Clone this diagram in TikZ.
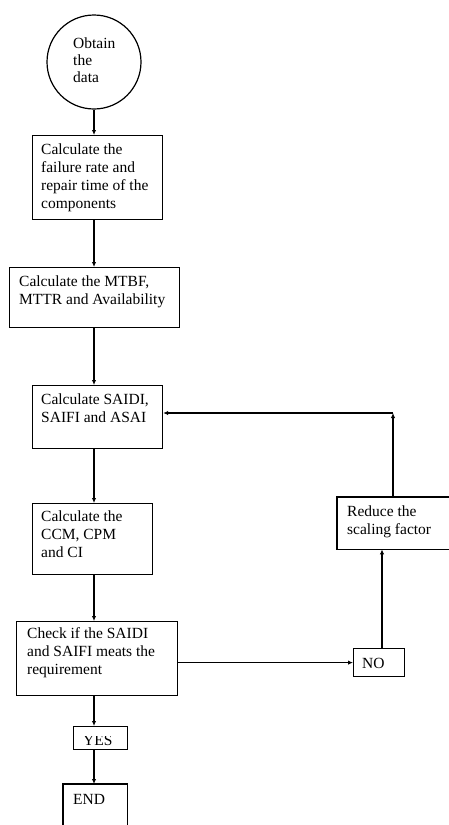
\documentclass[tikz,border=0pt]{standalone}
\usepackage{fontspec}
\setmainfont{Liberation Serif}
\usetikzlibrary{arrows.meta}
\begin{document}
\begin{tikzpicture}[x=1pt,y=-1pt,
  box/.style={draw, line width=1.2pt, rectangle, inner sep=0pt, anchor=north west},
  openbox/.style={rectangle, inner sep=0pt, anchor=north west},
  txt/.style={anchor=base west, inner sep=0pt, align=left, font=\fontsize{15.5}{18}\selectfont},
  arr/.style={line width=1.1pt, -{Latex[length=5pt,width=4.5pt]}},
  edge/.style={line width=1.2pt}]
\useasboundingbox (0,0) rectangle (449,825);
% start circle
\node[draw, line width=1.2pt, circle, minimum size=94pt, inner sep=0pt] (c) at (94,62) {};
\node[txt, font=\fontsize{15.5}{17}\selectfont] (ct) at (73,82) {Obtain\\the\\data};
% boxes
\node[box, minimum width=130pt, minimum height=84pt] (b1) at (32,135) {};
\node[txt] (t1) at (41,208) {Calculate the\\failure rate and\\repair time of the\\components};
\node[box, minimum width=170pt, minimum height=60pt] (b2) at (9,267) {};
\node[txt] (t2) at (19,304) {Calculate the MTBF,\\MTTR and Availability};
\node[box, minimum width=130pt, minimum height=63pt] (b3) at (32,385) {};
\node[txt] (t3) at (41,422) {Calculate SAIDI,\\SAIFI and ASAI};
\node[box, minimum width=120pt, minimum height=71pt] (b4) at (32,503) {};
\node[txt] (t4) at (41,557) {Calculate the\\CCM, CPM\\and CI};
\node[box, minimum width=161pt, minimum height=74pt] (b5) at (16,621) {};
\node[txt] (t5) at (27,674) {Check if the SAIDI\\and SAIFI meats the\\requirement};
\node[box, minimum width=51pt, minimum height=28pt] (no) at (353,648) {};
\node[txt] (tno) at (362,668) {NO};
\node[openbox, minimum width=115pt, minimum height=52pt] (r) at (337,497) {};
\draw[edge] (r.north east) -- (r.north west) -- (r.south west) -- (r.south east);
\node[txt] (tr) at (347,534) {Reduce the\\scaling factor};
\node[box, minimum width=54pt, minimum height=23pt] (yes) at (73,726) {};
\begin{scope}
  \clip (73,736) rectangle (127,749);
  \node[txt] (tyes) at (83,745) {YES};
\end{scope}
\node[openbox, minimum width=64pt, minimum height=45pt] (e) at (63,784) {};
\draw[edge] (e.south west) -- (e.north west) -- (e.north east) -- (e.south east);
\node[txt] (te) at (73,804) {END};
% connectors
\draw[arr] (c.south) -- (c.south |- b1.north);
\draw[arr] (c.south |- b1.south) -- (c.south |- b2.north);
\draw[arr] (c.south |- b2.south) -- (c.south |- b3.north);
\draw[arr] (c.south |- b3.south) -- (c.south |- b4.north);
\draw[arr] (c.south |- b4.south) -- (c.south |- b5.north);
\draw[arr] (c.south |- b5.south) -- (c.south |- yes.north);
\draw[arr] (c.south |- yes.south) -- (c.south |- e.north);
\draw[arr] (no.west -| b5.east) -- (no.west);
\coordinate (nx) at (382,0);
\draw[arr] (nx |- no.north) -- (nx |- r.south);
\coordinate (k) at (393,413);
\draw[arr] (k |- r.north) -- (k);
\draw[arr] (k) -- (k -| b3.east);
\end{tikzpicture}
\end{document}
